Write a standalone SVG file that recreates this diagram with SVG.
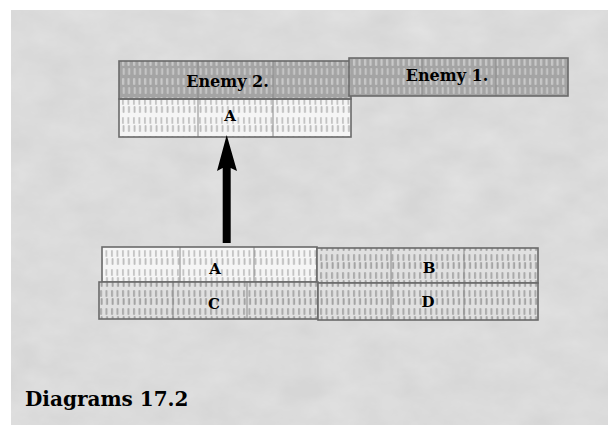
<svg xmlns="http://www.w3.org/2000/svg" width="608" height="425" viewBox="0 0 608 425">
  <style>
    .lbl { font-family: "DejaVu Serif", "Liberation Serif", serif; font-weight: bold; fill: #000; text-anchor: middle; }
    .frame { fill: none; stroke: #6a6a6a; stroke-width: 1.6; }
    .seg { stroke: #8a8a8a; stroke-width: 1; }
  </style>
  <defs>
    <filter id="marble" x="0" y="0" width="100%" height="100%">
      <feTurbulence type="fractalNoise" baseFrequency="0.025 0.04" numOctaves="4" seed="7" result="n"/>
      <feColorMatrix in="n" type="matrix" values="0 0 0 0 0.86  0 0 0 0 0.86  0 0 0 0 0.86  0.4 0.4 0 0 -0.2"/>
    </filter>
    <filter id="soft" x="0" y="0" width="100%" height="100%">
      <feGaussianBlur stdDeviation="0.5"/>
    </filter>
    <pattern id="pDark" patternUnits="userSpaceOnUse" width="5.5" height="19">
      <rect width="5.5" height="19" fill="#a4a4a4"/>
      <rect x="1" y="2" width="2.2" height="7" rx="1" fill="#cacaca"/>
      <rect x="1.6" y="11" width="2.2" height="7" rx="1" fill="#c4c4c4"/>
    </pattern>
    <pattern id="pLight" patternUnits="userSpaceOnUse" width="5.5" height="19">
      <rect width="5.5" height="19" fill="#f5f5f5"/>
      <rect x="1" y="3" width="1.8" height="7" rx="0.9" fill="#c2c2c2"/>
      <rect x="1.6" y="11" width="1.8" height="7" rx="0.9" fill="#bababa"/>
    </pattern>
    <pattern id="pMid" patternUnits="userSpaceOnUse" width="5.5" height="18">
      <rect width="5.5" height="18" fill="#e0e0e0"/>
      <rect x="1" y="2" width="2" height="7" rx="1" fill="#a8a8a8"/>
      <rect x="1.6" y="10" width="2" height="7" rx="1" fill="#a2a2a2"/>
    </pattern>
  </defs>

  <rect width="608" height="425" fill="#ffffff"/>
  <rect x="11" y="10" width="597" height="415" fill="#d6d6d6"/>
  <rect x="11" y="10" width="597" height="415" filter="url(#marble)"/>

  <g id="enemy2">
    <rect x="119" y="61" width="232" height="38" fill="url(#pDark)" filter="url(#soft)"/>
    <rect x="119" y="99" width="232" height="38" fill="url(#pLight)" filter="url(#soft)"/>
    <line class="seg" x1="198" y1="61" x2="198" y2="137"/>
    <line class="seg" x1="273" y1="61" x2="273" y2="137"/>
    <rect class="frame" x="119" y="61" width="232" height="38"/>
    <rect class="frame" x="119" y="99" width="232" height="38"/>
    <text class="lbl" x="227.5" y="87" font-size="16">Enemy 2.</text>
    <text class="lbl" x="230" y="121" font-size="15">A</text>
  </g>

  <g id="enemy1">
    <rect x="349" y="58" width="219" height="38" fill="url(#pDark)" filter="url(#soft)"/>
    <line class="seg" x1="422" y1="58" x2="422" y2="96"/>
    <line class="seg" x1="496" y1="58" x2="496" y2="96"/>
    <rect class="frame" x="349" y="58" width="219" height="38"/>
    <text class="lbl" x="447" y="81" font-size="16">Enemy 1.</text>
  </g>

  <g id="unitA">
    <rect x="102" y="247" width="215" height="35" fill="url(#pLight)" filter="url(#soft)"/>
    <line class="seg" x1="180" y1="247" x2="180" y2="282"/>
    <line class="seg" x1="254" y1="247" x2="254" y2="282"/>
    <rect class="frame" x="102" y="247" width="215" height="35"/>
    <text class="lbl" x="215" y="274" font-size="15">A</text>
  </g>

  <g id="unitB">
    <rect x="317" y="248" width="221" height="35" fill="url(#pMid)" filter="url(#soft)"/>
    <line class="seg" x1="391" y1="248" x2="391" y2="283"/>
    <line class="seg" x1="464" y1="248" x2="464" y2="283"/>
    <rect class="frame" x="317" y="248" width="221" height="35"/>
    <text class="lbl" x="429" y="273" font-size="15">B</text>
  </g>

  <g id="unitC">
    <rect x="99" y="282" width="219" height="37" fill="url(#pMid)" filter="url(#soft)"/>
    <line class="seg" x1="173" y1="282" x2="173" y2="319"/>
    <line class="seg" x1="247" y1="282" x2="247" y2="319"/>
    <rect class="frame" x="99" y="282" width="219" height="37"/>
    <text class="lbl" x="214" y="309" font-size="15">C</text>
  </g>

  <g id="unitD">
    <rect x="318" y="283" width="220" height="37" fill="url(#pMid)" filter="url(#soft)"/>
    <line class="seg" x1="391" y1="283" x2="391" y2="320"/>
    <line class="seg" x1="464" y1="283" x2="464" y2="320"/>
    <rect class="frame" x="318" y="283" width="220" height="37"/>
    <text class="lbl" x="428" y="307" font-size="15">D</text>
  </g>

  <g id="connectors">
    <path d="M226.7,135 L237,171 L230.7,168 L230.7,243 L222.7,243 L222.7,168 L217,171 Z" fill="#000"/>
  </g>

  <g id="caption">
    <text x="25" y="406" font-family="DejaVu Serif, Liberation Serif, serif" font-weight="bold" font-size="20" fill="#000">Diagrams 17.2</text>
  </g>
</svg>
